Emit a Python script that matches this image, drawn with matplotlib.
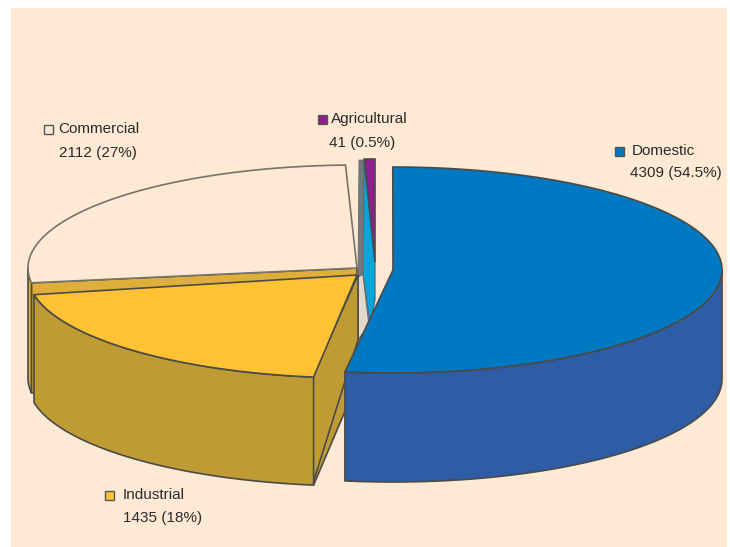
import numpy as np
import matplotlib
matplotlib.use('Agg')
import matplotlib.pyplot as plt
from matplotlib.patches import Rectangle, Polygon

# values
names = ['Domestic', 'Industrial', 'Commercial', 'Agricultural']
values = [4309, 1435, 2112, 41]
value_labels = ['4309 (54.5%)', '1435 (18%)', '2112 (27%)', '41 (0.5%)']

plt.rcParams['font.family'] = ['Liberation Sans', 'DejaVu Sans']

# slice placement, picture pixels (the original pie is not quite to scale)
centers = [(393, 270), (357, 275), (357, 268), (375, 262)]
starts = [-98.4, 191, 92, 90]
span_adjust = [-8, 6, 0, 0]
rx, ry = 329, 103
depth = 108

top_colors = ['#0079c2', '#ffc233', '#fde9d4', '#8e1f8e']
wall_colors = ['#2e5ca5', '#bf9c33', '#e0ae3a', '#0aa4dc']
edge = '#4a4a48'

shares = np.array(values) / sum(values)
spans = shares * 360 + np.array(span_adjust)


def arc(i, a1, a2, dy=0):
    t = np.radians(np.linspace(a1, a2, 120))
    cx, cy = centers[i]
    # y axis is inverted, so counter-clockwise on screen means minus sin
    return np.column_stack([cx + rx * np.cos(t), cy - ry * np.sin(t) + dy])


def top(i, ec=edge):
    pts = np.vstack([[centers[i]], arc(i, starts[i], starts[i] + spans[i])])
    ax.add_patch(Polygon(pts, closed=True, fc=top_colors[i], ec=ec, lw=1.2))


def side(i, a1, a2, color, d=depth):
    pts = np.vstack([arc(i, a1, a2), arc(i, a1, a2, d)[::-1]])
    ax.add_patch(Polygon(pts, closed=True, fc=color, ec=edge, lw=1.2))


def radial_wall(i, a, color, d=depth):
    cx, cy = centers[i]
    p = arc(i, a, a)[0]
    pts = [p, (cx, cy), (cx, cy + d), (p[0], p[1] + d)]
    ax.add_patch(Polygon(pts, closed=True, fc=color, ec=edge, lw=1.2))


fig = plt.figure(figsize=(7.3, 5.47), dpi=100)
ax = fig.add_axes([0, 0, 1, 1])
ax.set_xlim(0, 730)
ax.set_ylim(547, 0)
ax.axis('off')
ax.add_patch(Rectangle((11, 8), 716, 539, fc='#fde9d4', ec='none'))

# commercial
end_c = starts[2] + spans[2]
radial_wall(2, end_c, wall_colors[2], 110)
side(2, 180, end_c, wall_colors[2], 110)
top(2, ec='#77726c')

# agricultural with its bright side wall and the grey and pale walls next to it
ax.add_patch(Polygon([(364, 160), (375, 262), (375, 300), (370, 324), (363, 275)], closed=True,
                     fc=wall_colors[3], ec='#2f6f86', lw=0.9))
ax.add_patch(Polygon([(359, 160), (363.5, 160), (363.5, 272), (358, 277)], closed=True,
                     fc='#6f7a7c', ec='#6a6a68', lw=0.6))
ax.add_patch(Polygon([(358, 277), (363, 274), (369, 325), (358, 340)], closed=True,
                     fc='#e3d8cc', ec='#6a6a68', lw=0.9))
top(3)

# industrial
end_i = starts[1] + spans[1]
radial_wall(1, end_i, wall_colors[1])
ax.add_patch(Polygon([(358, 275), (358, 340), (313, 483), (313, 376)], closed=True,
                     fc=wall_colors[1], ec=edge, lw=1.2))
side(1, starts[1], end_i, wall_colors[1])
top(1)

# domestic
side(0, starts[0], 0, wall_colors[0], 109)
top(0)

# labels with their small key squares
keys = [(619, 151), (109, 495), (48, 129), (322, 119)]
name_pos = [(632, 151), (123, 495), (58, 129), (331, 119)]
value_pos = [(630, 173), (123, 518), (59, 153), (329, 143)]
for i in range(4):
    x, y = keys[i]
    ax.add_patch(Rectangle((x - 4.5, y - 4.5), 9, 9, fc=top_colors[i], ec='#555555', lw=1.0))
    ax.text(*name_pos[i], names[i], fontsize=11, color='#2b2b2b', ha='left', va='center')
    ax.text(*value_pos[i], value_labels[i], fontsize=11, color='#2b2b2b', ha='left', va='center')

fig.savefig('out.png', dpi=100)
